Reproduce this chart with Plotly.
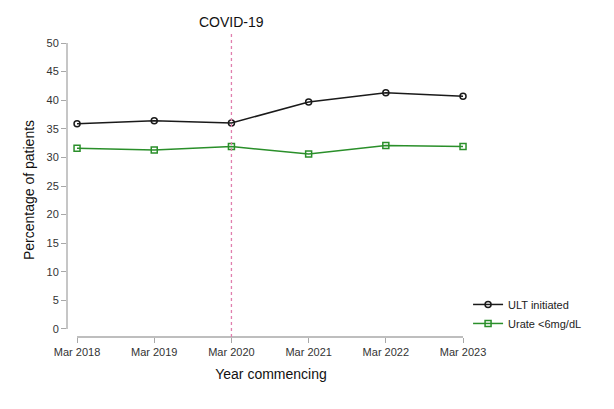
import plotly.graph_objects as go

years = [2018, 2019, 2020, 2021, 2022, 2023]
tick_labels = ["Mar 2018", "Mar 2019", "Mar 2020", "Mar 2021", "Mar 2022", "Mar 2023"]
ult_initiated = [35.9, 36.4, 36.0, 39.7, 41.3, 40.7]
urate_below6 = [31.6, 31.3, 31.9, 30.6, 32.1, 31.9]
y_ticks = [0, 5, 10, 15, 20, 25, 30, 35, 40, 45, 50]
covid_year = 2020

FONT = "Liberation Sans, Arial, sans-serif"
AXIS_GRAY = "#a8a8a8"
TEXT = "#333333"

x_range = [2017.87, 2023.155]
y_range = [-1.4, 50]


def xpaper(v):
    return (v - x_range[0]) / (x_range[1] - x_range[0])


def ypaper(v):
    return (v - y_range[0]) / (y_range[1] - y_range[0])


fig = go.Figure()
fig.add_trace(go.Scatter(
    x=years, y=ult_initiated, name="ULT initiated", mode="lines+markers",
    line=dict(color="#1a1a1a", width=1.5),
    marker=dict(symbol="circle-open", size=6, color="#1a1a1a", line=dict(width=1.5)),
))
fig.add_trace(go.Scatter(
    x=years, y=urate_below6, name="Urate <6mg/dL", mode="lines+markers",
    line=dict(color="#2a8f2a", width=1.5),
    marker=dict(symbol="square-open", size=6, color="#2a8f2a", line=dict(width=1.5)),
))

# Stata-style detached axis lines (paper refs so they are not clipped)
fig.add_shape(type="line", xref="paper", yref="paper", x0=0, x1=0,
              y0=ypaper(y_ticks[0]), y1=ypaper(y_ticks[-1]),
              line=dict(color=AXIS_GRAY, width=1.3))
fig.add_shape(type="line", xref="paper", yref="paper",
              x0=xpaper(years[0]), x1=xpaper(years[-1]), y0=0, y1=0,
              line=dict(color=AXIS_GRAY, width=1.3))
# COVID-19 marker
fig.add_shape(type="line", xref="paper", yref="paper",
              x0=xpaper(covid_year), x1=xpaper(covid_year), y0=0, y1=1.034,
              line=dict(color="#e07fae", width=1.3, dash="3px,3px"))
fig.add_annotation(x=covid_year, xref="x", y=1.0, yref="paper", yanchor="middle", yshift=21,
                   text="COVID-19", showarrow=False,
                   font=dict(family=FONT, size=14, color="#111111"))

fig.update_layout(
    width=614, height=409,
    margin=dict(l=59, r=147, t=35, b=80),
    paper_bgcolor="white", plot_bgcolor="white",
    font=dict(family=FONT, color=TEXT),
    showlegend=True,
    legend=dict(x=0.983, y=0.16, xanchor="left", yanchor="top",
                font=dict(family=FONT, size=11, color="#222222"),
                bgcolor="rgba(0,0,0,0)", itemwidth=30, tracegroupgap=0),
    xaxis=dict(range=x_range, tickvals=years, ticktext=tick_labels,
               showgrid=False, zeroline=False, showline=False,
               ticks="outside", ticklen=5, tickcolor=AXIS_GRAY, tickwidth=1.3,
               tickfont=dict(family=FONT, size=11, color=TEXT),
               title=dict(text="Year commencing", font=dict(family=FONT, size=14, color="#111111"),
                          standoff=11)),
    yaxis=dict(range=y_range, tickvals=y_ticks,
               showgrid=False, zeroline=False, showline=False,
               ticks="outside", ticklen=5, tickcolor=AXIS_GRAY, tickwidth=1.3,
               tickfont=dict(family=FONT, size=11, color=TEXT),
               title=dict(text="Percentage of patients", font=dict(family=FONT, size=14, color="#111111"),
                          standoff=8)),
)

fig.write_html("out.html")
